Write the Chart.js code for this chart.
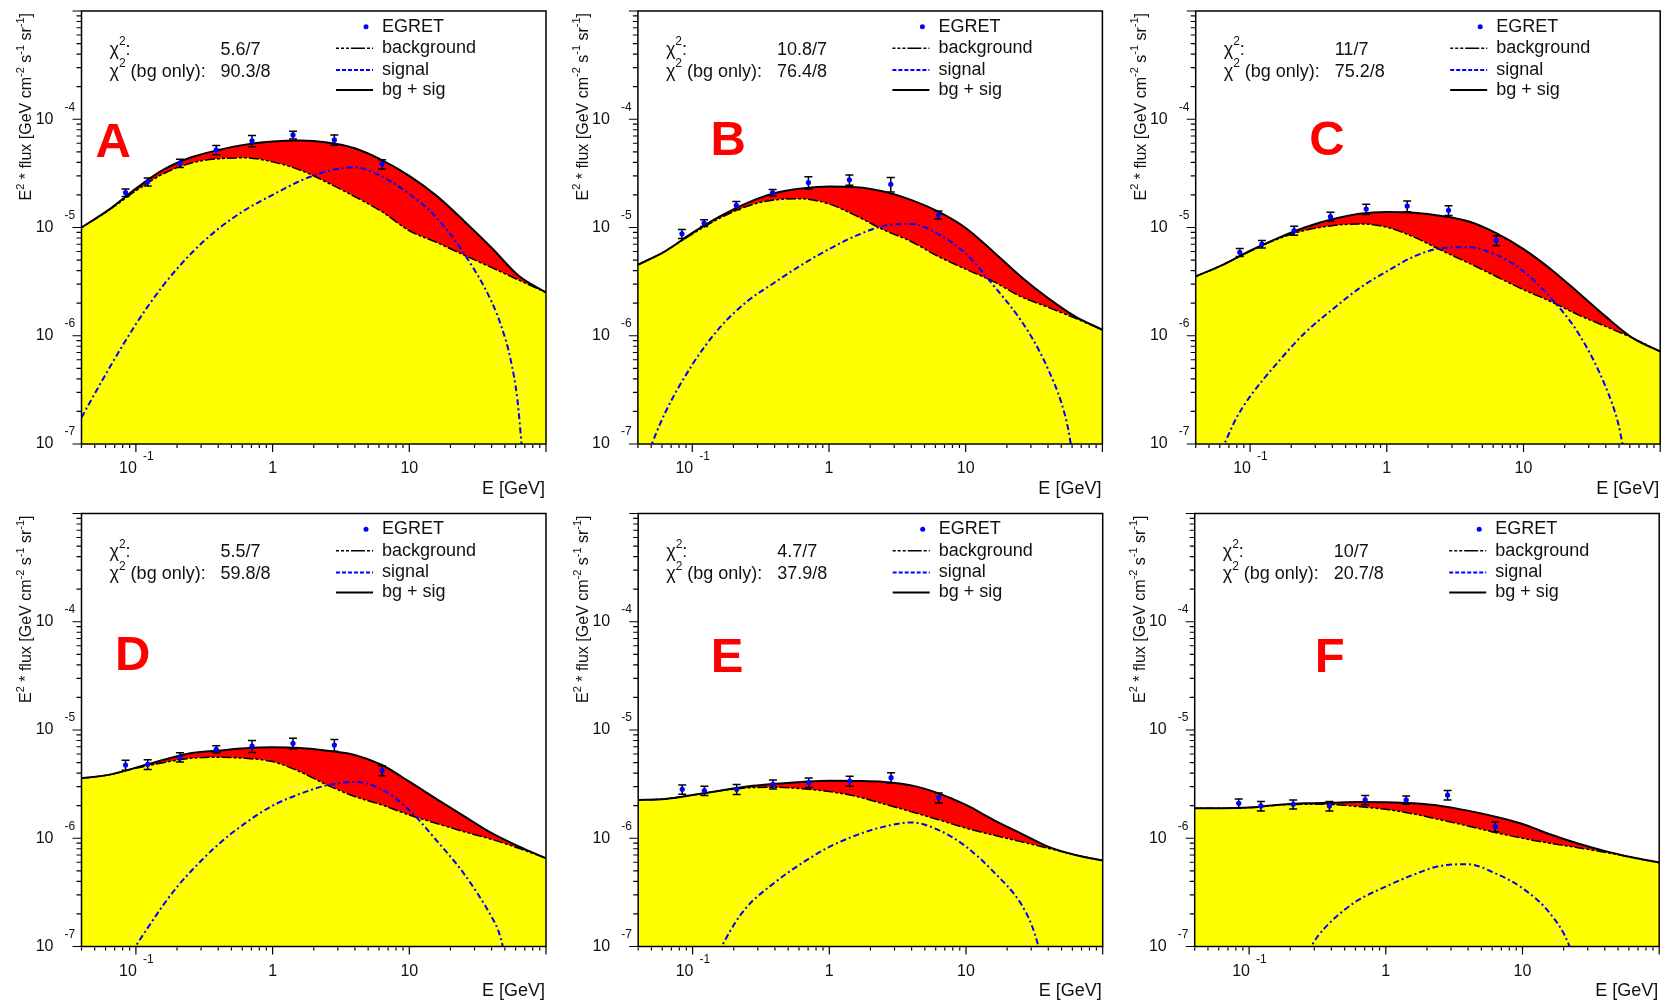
<!DOCTYPE html>
<html>
<head>
<meta charset="utf-8">
<title>EGRET fits A-F</title>
<script src="https://cdn.jsdelivr.net/npm/chart.js@4.4.1/dist/chart.umd.min.js"></script>
<style>
  html, body { margin: 0; padding: 0; background: #ffffff; overflow: hidden; }
  body { position: relative; width: 1663px; height: 1002px; }
  canvas { position: absolute; }
</style>
</head>
<body>
<canvas id="panelA" width="552" height="501"></canvas>
<canvas id="panelB" width="552" height="501"></canvas>
<canvas id="panelC" width="552" height="501"></canvas>
<canvas id="panelD" width="552" height="501"></canvas>
<canvas id="panelE" width="552" height="501"></canvas>
<canvas id="panelF" width="552" height="501"></canvas>
<script>
const energyGrid = [0.04, 0.0631, 0.1, 0.158, 0.251, 0.398, 0.631, 1, 1.585, 2.512, 3.981, 6.31, 10, 15.85, 25.12, 39.81, 63.1, 100];
// EGRET bin centres [GeV]
const egretEnergy = [0.084, 0.122, 0.21, 0.387, 0.707, 1.41, 2.83, 6.32];

// panel A
const backgroundA = [1.00e-5, 1.435e-5, 2.18e-5, 3.13e-5, 3.93e-5, 4.31e-5, 4.40e-5, 4.04e-5, 3.40e-5, 2.60e-5, 1.93e-5, 1.40e-5, 9.33e-6, 7.28e-6, 5.56e-6, 4.28e-6, 3.27e-6, 2.51e-6];
const bgSigA = [1.00e-5, 1.455e-5, 2.29e-5, 3.40e-5, 4.43e-5, 5.18e-5, 5.83e-5, 6.22e-5, 6.35e-5, 6.10e-5, 5.40e-5, 4.2e-5, 3.0e-5, 1.96e-5, 1.15e-5, 6.53e-6, 3.58e-6, 2.51e-6];
const signalEnergyA = [0.04, 0.0631, 0.1, 0.158, 0.251, 0.398, 0.631, 1, 1.585, 2.512, 3.981, 6.31, 10, 15.85, 25.12, 39.81, 47.9, 55.0, 61.7, 66.8];
const signalA = [1.76e-7, 4.90e-7, 1.28e-6, 2.90e-6, 5.68e-6, 9.66e-6, 1.455e-5, 2.0e-5, 2.69e-5, 3.31e-5, 3.59e-5, 2.95e-5, 2.04e-5, 1.23e-5, 5.75e-6, 2.09e-6, 1.15e-6, 6.10e-7, 2.60e-7, 8.9e-8];
const egretA = [2.10e-5, 2.64e-5, 3.93e-5, 5.21e-5, 6.31e-5, 7.16e-5, 6.44e-5, 3.85e-5];
const egretErrA = [0.17e-5, 0.22e-5, 0.35e-5, 0.5e-5, 0.75e-5, 0.6e-5, 0.7e-5, 0.38e-5];

// panel B
const backgroundB = [4.52e-6, 6.03e-6, 8.7e-6, 1.215e-5, 1.57e-5, 1.80e-5, 1.84e-5, 1.65e-5, 1.28e-5, 9.51e-6, 7.43e-6, 5.40e-6, 4.12e-6, 3.18e-6, 2.31e-6, 1.84e-6, 1.455e-6, 1.135e-6];
const bgSigB = [4.52e-6, 6.03e-6, 8.91e-6, 1.26e-5, 1.68e-5, 2.07e-5, 2.29e-5, 2.39e-5, 2.36e-5, 2.15e-5, 1.80e-5, 1.40e-5, 9.9e-6, 6.0e-6, 3.55e-6, 2.24e-6, 1.51e-6, 1.135e-6];
const signalEnergyB = [0.0479, 0.0631, 0.1, 0.158, 0.251, 0.398, 0.631, 1, 1.585, 2.512, 3.981, 6.31, 10, 15.85, 25.12, 31.6, 39.81, 50.1, 56.2, 59.6];
const signalB = [8.5e-8, 1.93e-7, 5.40e-7, 1.18e-6, 2.07e-6, 3.09e-6, 4.52e-6, 6.31e-6, 8.41e-6, 1.035e-5, 1.08e-5, 8.7e-6, 5.75e-6, 2.95e-6, 1.41e-6, 8.9e-7, 5.0e-7, 2.4e-7, 1.38e-7, 8.9e-8];
const egretB = [8.75e-6, 1.10e-5, 1.60e-5, 2.10e-5, 2.60e-5, 2.76e-5, 2.51e-5, 1.31e-5];
const egretErrB = [0.085e-5, 0.08e-5, 0.14e-5, 0.15e-5, 0.34e-5, 0.3e-5, 0.38e-5, 0.11e-5];

// panel C
const backgroundC = [3.53e-6, 4.52e-6, 6.03e-6, 7.8e-6, 9.4e-6, 1.04e-5, 1.08e-5, 1.007e-5, 8.15e-6, 6.14e-6, 4.69e-6, 3.53e-6, 2.66e-6, 2.07e-6, 1.56e-6, 1.22e-6, 9.51e-7, 7.16e-7];
const bgSigC = [3.53e-6, 4.52e-6, 6.10e-6, 7.94e-6, 1.0e-5, 1.19e-5, 1.34e-5, 1.39e-5, 1.37e-5, 1.28e-5, 1.135e-5, 8.87e-6, 6.31e-6, 4.12e-6, 2.51e-6, 1.51e-6, 9.51e-7, 7.16e-7];
const signalEnergyC = [0.0617, 0.0794, 0.1, 0.158, 0.251, 0.398, 0.631, 1, 1.585, 2.512, 3.981, 6.31, 10, 15.85, 25.12, 39.81, 49.2, 53.0, 54.3];
const signalC = [8.7e-8, 1.74e-7, 2.75e-7, 5.60e-7, 1.06e-6, 1.74e-6, 2.75e-6, 3.93e-6, 5.40e-6, 6.44e-6, 6.58e-6, 5.60e-6, 3.93e-6, 2.23e-6, 1.06e-6, 3.40e-7, 1.56e-7, 1.0e-7, 8.5e-8];
const egretC = [5.91e-6, 7.02e-6, 9.38e-6, 1.26e-5, 1.48e-5, 1.58e-5, 1.44e-5, 7.59e-6];
const egretErrC = [0.5e-6, 0.55e-6, 0.9e-6, 1.2e-6, 1.6e-6, 1.8e-6, 1.5e-6, 0.8e-6];

// panel D
const backgroundD = [3.58e-6, 3.85e-6, 4.43e-6, 4.99e-6, 5.47e-6, 5.60e-6, 5.47e-6, 5.11e-6, 4.12e-6, 3.10e-6, 2.43e-6, 2.03e-6, 1.64e-6, 1.37e-6, 1.15e-6, 9.79e-7, 8.09e-7, 6.53e-7];
const bgSigD = [3.58e-6, 3.85e-6, 4.49e-6, 5.28e-6, 6.10e-6, 6.44e-6, 6.78e-6, 6.92e-6, 6.82e-6, 6.44e-6, 5.87e-6, 4.75e-6, 3.33e-6, 2.3e-6, 1.6e-6, 1.12e-6, 8.4e-7, 6.53e-7];
const signalEnergyD = [0.0933, 0.126, 0.158, 0.2, 0.251, 0.398, 0.631, 1, 1.585, 2.512, 3.981, 6.31, 10, 15.85, 25.12, 39.81, 44.7, 48.3, 49.5];
const signalD = [8.9e-8, 1.58e-7, 2.40e-7, 3.55e-7, 4.90e-7, 8.71e-7, 1.38e-6, 2.0e-6, 2.57e-6, 3.09e-6, 3.31e-6, 2.82e-6, 1.82e-6, 9.5e-7, 4.7e-7, 1.9e-7, 1.41e-7, 1.0e-7, 8.5e-8];
const egretD = [4.75e-6, 4.82e-6, 5.60e-6, 6.64e-6, 7.11e-6, 7.53e-6, 7.27e-6, 4.22e-6];
const egretErrD = [0.5e-6, 0.5e-6, 0.55e-6, 0.5e-6, 0.9e-6, 0.85e-6, 0.9e-6, 0.45e-6];

// panel E
const backgroundE = [2.26e-6, 2.31e-6, 2.51e-6, 2.74e-6, 2.92e-6, 2.96e-6, 2.87e-6, 2.70e-6, 2.43e-6, 2.07e-6, 1.76e-6, 1.48e-6, 1.24e-6, 1.07e-6, 9.31e-7, 8.09e-7, 7.01e-7, 6.22e-7];
const bgSigE = [2.26e-6, 2.31e-6, 2.51e-6, 2.75e-6, 3.00e-6, 3.18e-6, 3.31e-6, 3.40e-6, 3.38e-6, 3.31e-6, 3.08e-6, 2.60e-6, 2.03e-6, 1.48e-6, 1.11e-6, 8.37e-7, 7.01e-7, 6.22e-7];
const signalEnergyE = [0.155, 0.2, 0.251, 0.398, 0.631, 1, 1.585, 2.512, 3.981, 6.31, 10, 15.85, 25.12, 30.2, 33.9, 35.1];
const signalE = [8.9e-8, 1.58e-7, 2.34e-7, 3.89e-7, 5.89e-7, 8.32e-7, 1.07e-6, 1.28e-6, 1.40e-6, 1.19e-6, 8.37e-7, 4.92e-7, 2.51e-7, 1.58e-7, 1.0e-7, 8.3e-8];
const egretE = [2.83e-6, 2.75e-6, 2.83e-6, 3.15e-6, 3.27e-6, 3.38e-6, 3.63e-6, 2.37e-6];
const egretErrE = [0.28e-6, 0.27e-6, 0.3e-6, 0.3e-6, 0.33e-6, 0.35e-6, 0.4e-6, 0.25e-6];

// panel F
const backgroundF = [1.89e-6, 1.89e-6, 1.92e-6, 2.02e-6, 2.06e-6, 2.05e-6, 1.96e-6, 1.85e-6, 1.68e-6, 1.48e-6, 1.30e-6, 1.13e-6, 1.00e-6, 8.99e-7, 8.20e-7, 7.43e-7, 6.64e-7, 5.96e-7];
const bgSigF = [1.89e-6, 1.89e-6, 1.92e-6, 2.03e-6, 2.10e-6, 2.13e-6, 2.16e-6, 2.15e-6, 2.10e-6, 1.99e-6, 1.80e-6, 1.585e-6, 1.355e-6, 1.09e-6, 8.99e-7, 7.64e-7, 6.68e-7, 5.96e-7];
const signalEnergyF = [0.269, 0.316, 0.398, 0.501, 0.631, 1, 1.585, 2.512, 3.981, 6.31, 10, 15.85, 22.1, 22.9];
const signalF = [8.9e-8, 1.23e-7, 1.70e-7, 2.19e-7, 2.69e-7, 3.58e-7, 4.59e-7, 5.56e-7, 5.75e-7, 4.75e-7, 3.45e-7, 2.03e-7, 1.0e-7, 8.5e-8];
const egretF = [2.10e-6, 1.99e-6, 2.06e-6, 1.99e-6, 2.26e-6, 2.26e-6, 2.51e-6, 1.28e-6];
const egretErrF = [0.2e-6, 0.2e-6, 0.2e-6, 0.2e-6, 0.22e-6, 0.2e-6, 0.25e-6, 0.13e-6];

// texts
const panelNames = ["A", "B", "C", "D", "E", "F"];
const chi2Fit = ["5.6/7", "10.8/7", "11/7", "5.5/7", "4.7/7", "10/7"];
const chi2BgOnly = ["90.3/8", "76.4/8", "75.2/8", "59.8/8", "37.9/8", "20.7/8"];
const legendLabels = ["EGRET", "background", "signal", "bg + sig"];
const yTickExponents = [-7, -6, -5, -4];
const xTickValues = [0.1, 1, 10];
const xTickBase = ["10", "1", "10"];
const xTickExponent = ["-1", "", ""];

const panels = [
  { bg: backgroundA, tot: bgSigA, sigE: signalEnergyA, sig: signalA, egret: egretA, err: egretErrA },
  { bg: backgroundB, tot: bgSigB, sigE: signalEnergyB, sig: signalB, egret: egretB, err: egretErrB },
  { bg: backgroundC, tot: bgSigC, sigE: signalEnergyC, sig: signalC, egret: egretC, err: egretErrC },
  { bg: backgroundD, tot: bgSigD, sigE: signalEnergyD, sig: signalD, egret: egretD, err: egretErrD },
  { bg: backgroundE, tot: bgSigE, sigE: signalEnergyE, sig: signalE, egret: egretE, err: egretErrE },
  { bg: backgroundF, tot: bgSigF, sigE: signalEnergyF, sig: signalF, egret: egretF, err: egretErrF },
];

// where each canvas sits and where its frame starts
const layoutInfo = [
  { left: 0, top: 0, padLeft: 81.5, padTop: 11, letterX: 14, letterY: 146 },
  { left: 556, top: 0, padLeft: 81.9, padTop: 11, letterX: 72.5, letterY: 144 },
  { left: 1114, top: 0, padLeft: 81.7, padTop: 11, letterX: 113.5, letterY: 144 },
  { left: 0, top: 502, padLeft: 81.5, padTop: 11.5, letterX: 33.6, letterY: 156.5 },
  { left: 556, top: 502, padLeft: 82.2, padTop: 11.5, letterX: 72.5, letterY: 158 },
  { left: 1114, top: 502, padLeft: 80.7, padTop: 11.5, letterX: 120, letterY: 158 },
];

const FONT = '"Liberation Sans", Arial, Helvetica, sans-serif';
const TEXT = "#111111";

function partsWidth(ctx, parts, size, supSize) {
  let w = 0;
  parts.forEach(([txt, sup]) => {
    ctx.font = (sup ? supSize : size) + "px " + FONT;
    w += ctx.measureText(txt).width;
  });
  return w;
}

function drawParts(ctx, parts, x, y, size, supSize, rise) {
  let cx = x;
  parts.forEach(([txt, sup]) => {
    ctx.font = (sup ? supSize : size) + "px " + FONT;
    ctx.fillText(txt, cx, sup ? y - rise : y);
    cx += ctx.measureText(txt).width;
  });
  return cx - x;
}

const rootStyle = {
  id: "rootStyle",
  // error bars go under the curves and markers
  beforeDatasetsDraw(chart, args, opts) {
    const { ctx, scales: { x, y } } = chart;
    const p = panels[opts.panel];
    ctx.save();
    ctx.strokeStyle = "#000000";
    ctx.lineWidth = 1.5;
    egretEnergy.forEach((e, i) => {
      const px = x.getPixelForValue(e);
      const hi = y.getPixelForValue(p.egret[i] + p.err[i]);
      const lo = y.getPixelForValue(p.egret[i] - p.err[i]);
      ctx.beginPath();
      ctx.moveTo(px, hi); ctx.lineTo(px, lo);
      ctx.moveTo(px - 4, hi); ctx.lineTo(px + 4, hi);
      ctx.moveTo(px - 4, lo); ctx.lineTo(px + 4, lo);
      ctx.stroke();
    });
    ctx.restore();
  },
  afterDraw(chart, args, opts) {
    const { ctx, chartArea: a, scales: { x, y } } = chart;
    const i = opts.panel;
    const lay = layoutInfo[i];
    ctx.save();

    // frame
    ctx.strokeStyle = "#000000";
    ctx.lineWidth = 1.5;
    ctx.strokeRect(a.left, a.top, a.right - a.left, a.bottom - a.top);

    // y ticks (outside, left)
    ctx.lineWidth = 1.2;
    ctx.beginPath();
    for (let d = -7; d <= -3; d++) {
      for (let m = 1; m <= 9; m++) {
        const v = m * Math.pow(10, d);
        if (v < 0.999e-7 || v > 1.001e-3) continue;
        const py = y.getPixelForValue(v);
        ctx.moveTo(a.left, py);
        ctx.lineTo(a.left - (m === 1 ? 9 : 5), py);
      }
    }
    // x ticks (outside, below)
    for (let d = -2; d <= 2; d++) {
      for (let m = 1; m <= 9; m++) {
        const v = m * Math.pow(10, d);
        if (v < 0.0399 || v > 100.1) continue;
        const px = x.getPixelForValue(v);
        if (m === 1) { ctx.moveTo(px, a.bottom); ctx.lineTo(px, a.bottom + 8); }
        else { ctx.moveTo(px, a.bottom + 1); ctx.lineTo(px, a.bottom + 4); }
      }
    }
    ctx.stroke();

    // y tick labels
    ctx.fillStyle = TEXT;
    ctx.textBaseline = "middle";
    yTickExponents.forEach((ex) => {
      const py = y.getPixelForValue(Math.pow(10, ex));
      ctx.font = "16px " + FONT;
      ctx.textAlign = "right";
      ctx.fillText("10", a.left - 28, py);
      ctx.font = "12px " + FONT;
      ctx.textAlign = "left";
      ctx.fillText(String(ex), a.left - 17, py - 12);
    });

    // x tick labels
    xTickValues.forEach((v, k) => {
      const px = x.getPixelForValue(v);
      ctx.font = "16px " + FONT;
      ctx.textAlign = "center";
      if (xTickExponent[k]) {
        ctx.fillText(xTickBase[k], px - 8, a.bottom + 25);
        ctx.font = "12px " + FONT;
        ctx.textAlign = "left";
        ctx.fillText(xTickExponent[k], px + 7, a.bottom + 13);
      } else {
        ctx.fillText(xTickBase[k], px, a.bottom + 25);
      }
    });

    // axis titles
    ctx.font = "18px " + FONT;
    ctx.textAlign = "right";
    ctx.fillText("E [GeV]", a.right - 1, a.bottom + 45);

    const titleParts = [["E", 0], ["2", 1], [" * flux [GeV cm", 0], ["-2", 1], [" s", 0], ["-1", 1], [" sr", 0], ["-1", 1], ["]", 0]];
    ctx.save();
    ctx.translate(a.left - 54.5, a.top + 2);
    ctx.rotate(-Math.PI / 2);
    ctx.textAlign = "left";
    const tw = partsWidth(ctx, titleParts, 16, 11);
    drawParts(ctx, titleParts, -tw, 0, 16, 11, 6);
    ctx.restore();

    // chi2 block
    ctx.textAlign = "left";
    ctx.fillStyle = TEXT;
    drawParts(ctx, [["\u03c7", 0], ["2", 1], [":", 0]], a.left + 28, a.top + 39, 18, 12, 8);
    drawParts(ctx, [["\u03c7", 0], ["2", 1], [" (bg only):", 0]], a.left + 28, a.top + 61, 18, 12, 8);
    ctx.font = "18px " + FONT;
    ctx.fillText(chi2Fit[i], a.left + 139, a.top + 39);
    ctx.fillText(chi2BgOnly[i], a.left + 139, a.top + 61);

    // legend
    const rows = [15.7, 37.3, 59, 79];
    legendLabels.forEach((lab, k) => ctx.fillText(lab, a.right - 164, a.top + rows[k]));
    ctx.fillStyle = "#0000ff";
    ctx.beginPath();
    ctx.arc(a.right - 180, a.top + rows[0], 2.5, 0, 2 * Math.PI);
    ctx.fill();
    ctx.strokeStyle = "#000000";
    ctx.lineWidth = 1.5;
    ctx.setLineDash([3, 2, 3, 2, 3, 2, 14, 2]);
    ctx.beginPath();
    ctx.moveTo(a.right - 210, a.top + rows[1]); ctx.lineTo(a.right - 173, a.top + rows[1]);
    ctx.stroke();
    ctx.strokeStyle = "#0000ff";
    ctx.lineWidth = 2;
    ctx.setLineDash([4, 2]);
    ctx.beginPath();
    ctx.moveTo(a.right - 210, a.top + rows[2]); ctx.lineTo(a.right - 173, a.top + rows[2]);
    ctx.stroke();
    ctx.strokeStyle = "#000000";
    ctx.setLineDash([]);
    ctx.beginPath();
    ctx.moveTo(a.right - 210, a.top + rows[3]); ctx.lineTo(a.right - 173, a.top + rows[3]);
    ctx.stroke();

    // big panel letter
    ctx.font = "bold 49px " + FONT;
    ctx.fillStyle = "#ff0000";
    ctx.textAlign = "left";
    ctx.textBaseline = "alphabetic";
    ctx.fillText(panelNames[i], a.left + lay.letterX, a.top + lay.letterY);

    ctx.restore();
  },
};

function makeChart(i) {
  const p = panels[i];
  const lay = layoutInfo[i];
  const canvas = document.getElementById("panel" + panelNames[i]);
  canvas.style.left = lay.left + "px";
  canvas.style.top = lay.top + "px";

  const plotW = 464.5;
  const plotH = 433;

  return new Chart(canvas, {
    type: "line",
    data: {
      datasets: [
        {
          label: "EGRET",
          data: egretEnergy.map((e, k) => ({ x: e, y: p.egret[k] })),
          showLine: false,
          pointRadius: 2.6,
          pointBackgroundColor: "#0000ff",
          pointBorderWidth: 0,
        },
        {
          label: "signal",
          data: p.sigE.map((e, k) => ({ x: e, y: p.sig[k] })),
          borderColor: "#0000ff",
          borderWidth: 2,
          borderDash: [6, 3, 2, 3],
          pointRadius: 0,
          fill: false,
          cubicInterpolationMode: "monotone",
        },
        {
          label: "bg + sig",
          data: energyGrid.map((e, k) => ({ x: e, y: p.tot[k] })),
          borderColor: "#000000",
          borderWidth: 2,
          backgroundColor: "#ff0000",
          pointRadius: 0,
          fill: "+1",
          cubicInterpolationMode: "monotone",
        },
        {
          label: "background",
          data: energyGrid.map((e, k) => ({ x: e, y: p.bg[k] })),
          borderColor: "#000000",
          borderWidth: 1.5,
          borderDash: [3, 2, 3, 2, 10, 2],
          backgroundColor: "#ffff00",
          pointRadius: 0,
          fill: "start",
          cubicInterpolationMode: "monotone",
        },
      ],
    },
    options: {
      responsive: false,
      animation: false,
      devicePixelRatio: 1,
      layout: {
        padding: {
          left: lay.padLeft,
          top: lay.padTop,
          right: 552 - lay.padLeft - plotW,
          bottom: 501 - lay.padTop - plotH,
        },
      },
      scales: {
        x: { type: "logarithmic", min: 0.04, max: 100, display: false },
        y: { type: "logarithmic", min: 1e-7, max: 1e-3, display: false },
      },
      plugins: {
        legend: { display: false },
        tooltip: { enabled: false },
        filler: { drawTime: "beforeDatasetsDraw" },
        rootStyle: { panel: i },
      },
    },
    plugins: [rootStyle],
  });
}

const charts = panels.map((p, i) => makeChart(i));
</script>
</body>
</html>
